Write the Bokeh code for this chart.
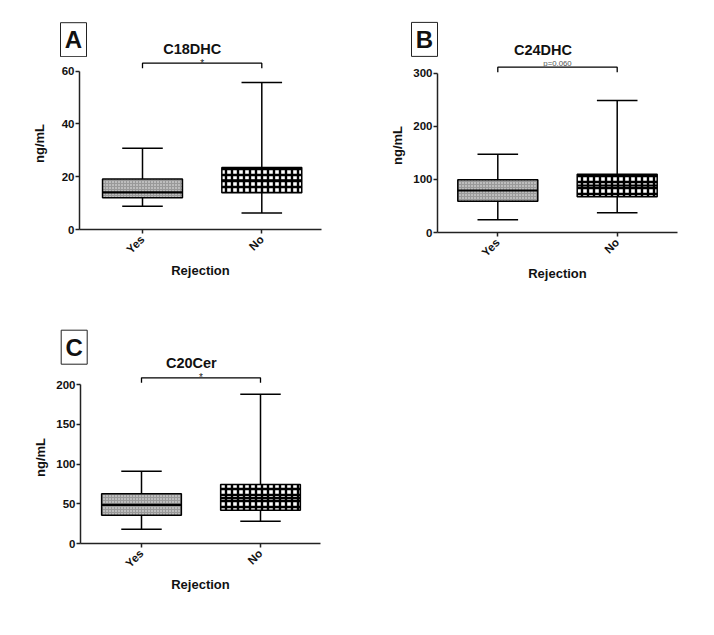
import math
from bokeh.plotting import figure
from bokeh.models import FixedTicker, Range1d
from bokeh.core.properties import value
from bokeh.layouts import column, row
from bokeh.embed import file_html
from bokeh.resources import INLINE

FONT = "Liberation Sans"

categories = ["Yes", "No"]

# Panel A : C18DHC (ng/mL)
a_lower = [8.8, 6.3]
a_q1 = [12.0, 13.9]
a_median = [14.1, 18.6]
a_q3 = [19.1, 23.5]
a_upper = [30.8, 55.7]
a_ticks = [0, 20, 40, 60]

# Panel B : C24DHC (ng/mL)
b_lower = [23.9, 37.1]
b_q1 = [59.0, 67.2]
b_median = [79.1, 88.5]
b_q3 = [99.2, 109.8]
b_upper = [147.5, 248.6]
b_ticks = [0, 100, 200, 300]

# Panel C : C20Cer (ng/mL)
c_lower = [18.0, 28.1]
c_q1 = [35.7, 42.0]
c_median = [48.8, 57.1]
c_q3 = [62.6, 74.4]
c_upper = [91.1, 188.2]
c_ticks = [0, 50, 100, 150, 200]


def no_align(fig):
    if "frame_align" in fig.properties():
        fig.frame_align = False


def panel(letter, title, sig, lower, q1, med, q3, upper, ticks, geo):
    fx, fw = geo["fig_x"], geo["fig_w"]
    st, sb = geo["strip"]
    fl, fr, fb, fig_bottom = geo["frame"]
    ft = sb
    ky = (fb - geo["ytop_px"]) / ticks[-1]
    kx = geo["cat_px"][1] - geo["cat_px"][0]
    x0 = -(geo["cat_px"][0] - fl) / kx
    x1 = x0 + (fr - fl) / kx
    y1 = (fb - ft) / ky

    def Y(py):
        return (fb - py) / ky

    # ---- header strip: panel letter and title ----
    s = figure(width=fw, height=sb - st, output_backend="svg", toolbar_location=None,
               x_range=Range1d(fx, fx + fw), y_range=Range1d(sb, st),
               x_axis_type=None, y_axis_type=None, min_border=0)
    no_align(s)
    s.outline_line_color = None
    s.grid.visible = False
    s.background_fill_color = "white"
    s.border_fill_color = "white"
    lx, ly = geo["letter_pos"]
    s.rect(x=[lx], y=[ly], width=26, height=34, fill_color="white",
           line_color="#222222", line_width=1)
    s.text(x=[lx], y=[ly], text=[letter], text_align="center", text_baseline="middle",
           text_font=value(FONT), text_font_size="24px", text_font_style="bold",
           text_color="#111111")
    tx, ty = geo["title_pos"]
    s.text(x=[tx], y=[ty], text=[title], text_align="center", text_baseline="middle",
           text_font=value(FONT), text_font_size="14.5px", text_font_style="bold",
           text_color="#111111")

    # ---- main box plot ----
    p = figure(width=fw, height=fig_bottom - sb, output_backend="svg", toolbar_location=None,
               x_range=Range1d(x0, x1), y_range=Range1d(0, y1),
               min_border_left=fl - fx, min_border_right=fx + fw - fr,
               min_border_top=0, min_border_bottom=fig_bottom - fb)
    no_align(p)
    p.outline_line_color = None
    p.grid.visible = False
    p.background_fill_color = "white"
    p.border_fill_color = "white"

    xs = list(range(len(categories)))
    bw = 0.67
    cw = 0.34
    p.segment(x0=xs, y0=q3, x1=xs, y1=upper, line_color="black", line_width=1.5)
    p.segment(x0=xs, y0=lower, x1=xs, y1=q1, line_color="black", line_width=1.5)
    p.segment(x0=[x - cw / 2 for x in xs], y0=upper, x1=[x + cw / 2 for x in xs], y1=upper,
              line_color="black", line_width=1.5)
    p.segment(x0=[x - cw / 2 for x in xs], y0=lower, x1=[x + cw / 2 for x in xs], y1=lower,
              line_color="black", line_width=1.5)
    p.vbar(x=[xs[0]], width=bw, bottom=[q1[0]], top=[q3[0]], fill_color="#999999",
           hatch_pattern="dot", hatch_color="#f2f2f2", hatch_scale=3,
           line_color="black", line_width=1.5)
    p.vbar(x=[xs[1]], width=bw, bottom=[q1[1]], top=[q3[1]], fill_color="white",
           hatch_pattern="cross", hatch_color="black", hatch_scale=6, hatch_weight=2.4,
           line_color="black", line_width=1.5)
    p.segment(x0=[x - bw / 2 for x in xs], y0=med, x1=[x + bw / 2 for x in xs], y1=med,
              line_color="black", line_width=2.2)

    # significance bracket and mark
    yb = Y(geo["bracket_px"])
    tk = 5 / ky
    p.line(x=[xs[0], xs[0], xs[1], xs[1]], y=[yb - tk, yb, yb, yb - tk],
           line_color="black", line_width=1.3)
    sy, ssize, scol = geo["sig_pos"]
    p.text(x=[(xs[0] + xs[1]) / 2], y=[Y(sy)], text=[sig], text_align="center",
           text_baseline="middle", text_font=value(FONT), text_font_size=ssize,
           text_color=scol)

    p.yaxis.ticker = FixedTicker(ticks=ticks)
    p.yaxis.bounds = (0, ticks[-1])
    p.yaxis.axis_label = "ng/mL"
    p.yaxis.axis_label_standoff = geo["ylab_standoff"]
    p.xaxis.ticker = FixedTicker(ticks=xs)
    p.xaxis.major_label_overrides = {i: c for i, c in enumerate(categories)}
    p.xaxis.major_label_orientation = math.pi / 4
    p.xaxis.axis_label = "Rejection"
    p.xaxis.axis_label_standoff = 0
    p.xaxis.major_label_standoff = 4
    p.yaxis.major_label_standoff = 1
    for ax in (p.xaxis[0], p.yaxis[0]):
        ax.axis_line_color = "#222222"
        ax.axis_line_width = 1.5
        ax.major_tick_line_color = "#222222"
        ax.major_tick_line_width = 1.5
        ax.major_tick_out = 4
        ax.major_tick_in = 0
        ax.minor_tick_line_color = None
        ax.major_label_text_font = FONT
        ax.major_label_text_font_style = "bold"
        ax.major_label_text_font_size = "11.5px"
        ax.major_label_text_color = "#111111"
        ax.axis_label_text_font = FONT
        ax.axis_label_text_font_style = "bold"
        ax.axis_label_text_font_size = "13px"
        ax.axis_label_text_color = "#111111"
    return column(s, p)


geo_a = dict(fig_x=0, fig_w=368, strip=(0, 57), frame=(79, 321, 229, 300), ytop_px=70.7,
             cat_px=(142, 261.3), bracket_px=62.7, sig_pos=(63.0, "10px", "#222222"),
             title_pos=(191.7, 48.3), letter_pos=(73, 39.2), ylab_standoff=12)
geo_b = dict(fig_x=368, fig_w=346, strip=(0, 58), frame=(437, 677, 232, 300), ytop_px=72.7,
             cat_px=(497.3, 616.7), bracket_px=66.7, sig_pos=(62.6, "7.8px", "#555555"),
             title_pos=(542.5, 49.2), letter_pos=(424, 38.9), ylab_standoff=5)
geo_c = dict(fig_x=0, fig_w=368, strip=(300, 371), frame=(80, 320, 543, 620), ytop_px=384.3,
             cat_px=(141, 260), bracket_px=377.3, sig_pos=(377.0, "10px", "#222222"),
             title_pos=(190.8, 362.5), letter_pos=(73.7, 346.7), ylab_standoff=5)

pa = panel("A", "C18DHC", "*", a_lower, a_q1, a_median, a_q3, a_upper, a_ticks, geo_a)
pb = panel("B", "C24DHC", "p=0.060", b_lower, b_q1, b_median, b_q3, b_upper, b_ticks, geo_b)
pc = panel("C", "C20Cer", "*", c_lower, c_q1, c_median, c_q3, c_upper, c_ticks, geo_c)

layout = column(row(pa, pb), pc)
open("out.html", "w").write(file_html(layout, INLINE))
